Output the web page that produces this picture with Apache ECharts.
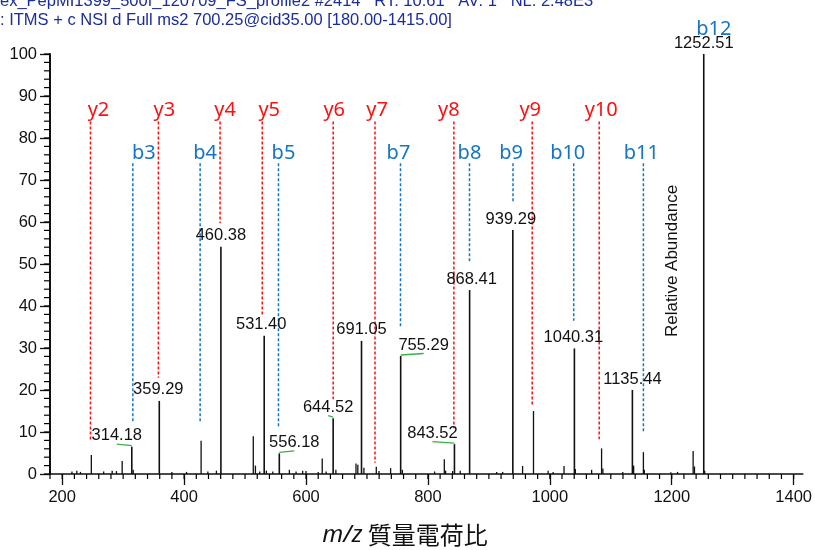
<!DOCTYPE html>
<html>
<head>
<meta charset="utf-8">
<script src="https://cdn.jsdelivr.net/npm/echarts@6/dist/echarts.min.js"></script>
<style>
  html, body { margin: 0; padding: 0; background: #fff; }
  #chart { width: 815px; height: 550px; }
</style>
</head>
<body>
<div id="chart"></div>
<script>
// labelled peaks (m/z, relative abundance)
const labelledMz = [314.18, 359.29, 460.38, 531.40, 556.18, 644.52, 691.05, 755.29, 843.52, 868.41, 939.29, 1040.31, 1135.44, 1252.51];
const labelledInt = [6.5, 17.4, 54.1, 32.9, 4.9, 13.3, 31.7, 28.1, 7.1, 43.8, 58.1, 29.9, 20.0, 100];
const labelShift = [-15, -1, 0, -3, 15, -5, 0, 23, -22, 2, -2, -1, 0, 0];

// unlabelled peaks
const otherMz = [216, 224, 230, 247.8, 268, 282, 289, 298.4, 316.5, 380, 404, 427.9, 439, 453, 513.5, 517, 524, 535, 545.5,
  572.7, 583.7, 594.5, 600, 620, 626.6, 633, 649, 682, 685, 695, 715.3, 719.7, 738.8, 758, 811, 826.9, 829, 840.5, 853,
  912.8, 922.6, 955.3, 973.2, 997.2, 1005.4, 1023.3, 1041.8, 1068.6, 1084.9, 1087, 1119.6, 1137.5, 1153.5, 1155,
  1198.5, 1209.5, 1235.1, 1237.3, 1254];
const otherInt = [0.6, 0.8, 0.5, 4.5, 0.6, 0.8, 0.7, 3.1, 1.0, 0.5, 0.5, 7.9, 0.6, 0.8, 9.0, 2.0, 0.6, 0.8, 0.6,
  1.0, 0.6, 0.8, 0.7, 0.5, 3.7, 0.6, 1.0, 2.5, 2.2, 1.5, 1.7, 0.7, 1.4, 1.0, 0.6, 3.5, 0.8, 0.7, 0.8,
  0.5, 0.5, 1.9, 15.0, 0.8, 0.5, 1.9, 1.2, 1.0, 6.1, 1.3, 0.5, 2.0, 5.2, 1.0,
  0.4, 0.5, 5.5, 1.8, 0.8];

// fragment ion annotations
const ionNames = ['y2', 'b3', 'y3', 'b4', 'y4', 'y5', 'b5', 'y6', 'y7', 'b7', 'y8', 'b8', 'b9', 'y9', 'b10', 'y10', 'b11', 'b12'];
const ionMz = [246.4, 315.9, 357.8, 426.3, 459.0, 528.2, 554.8, 644.6, 713.2, 755.0, 842.6, 868.2, 939.6, 971.1, 1039.2, 1081.0, 1153.5, 1252.5];
const ionLow = [8.1, 12.2, 22.9, 12.2, 59.7, 38.0, 10.9, 17.8, 2.7, 35.2, 10.9, 50.2, 64.8, 16.4, 36.5, 8.3, 9.7, null];
const ionLabelShift = [8, 11, 6, 5, 5, 7, 5, 1, 2, -2, -5, 0, -2, -2, -6, 2, -2, 10];
const yIonTop = 83.9;
const bIonTop = 74.0;

// axis ticks
const xMajorTicks = [200, 400, 600, 800, 1000, 1200, 1400];
const xMinorTicks = [];
for (let v = 180; v <= 1415; v += 20) xMinorTicks.push(v);
const yMinorTicks = [];
for (let v = 0; v <= 100; v += 2) yMinorTicks.push(v);

const chart = echarts.init(document.getElementById('chart'));

const labelFont = '16.5px "Liberation Sans", Arial, sans-serif';
const ionFont = '20px "Noto Sans", "Open Sans", sans-serif';

const option = {
    animation: false,
    grid: { left: 50, right: 9, top: 54, bottom: 76 },
    xAxis: {
        type: 'value', min: 180, max: 1415,
        position: 'bottom',
        axisLine: { show: true, lineStyle: { color: '#111', width: 1.5 } },
        axisTick: { show: true, customValues: xMajorTicks, length: 11, lineStyle: { color: '#111', width: 1.3 } },
        axisLabel: {
            customValues: xMajorTicks, margin: 15, fontSize: 16.5, color: '#111',
            fontFamily: '"Liberation Sans", Arial', formatter: (v) => String(v)
        },
        splitLine: { show: false }
    },
    yAxis: {
        type: 'value', min: 0, max: 100, interval: 10,
        position: 'left',
        axisLine: { show: true, lineStyle: { color: '#111', width: 2 } },
        axisTick: { show: true, length: 10, lineStyle: { color: '#111', width: 1.3 } },
        axisLabel: { margin: 13, fontSize: 16.5, color: '#111', fontFamily: '"Liberation Sans", Arial' },
        splitLine: { show: false }
    },
    graphic: [
        {
            type: 'text', x: 0, y: 1,
            style: {
                text: 'ex_PepMI1399_500f_120709_FS_profile2 #2414   RT: 10.61   AV: 1   NL: 2.48E3',
                font: '16.5px "Liberation Sans", Arial', fill: '#1b2c9c', verticalAlign: 'middle'
            }
        },
        {
            type: 'text', x: 0, y: 20,
            style: {
                text: ': ITMS + c NSI d Full ms2 700.25@cid35.00 [180.00-1415.00]',
                font: '16.5px "Liberation Sans", Arial', fill: '#1b2c9c', verticalAlign: 'middle'
            }
        },
        {
            type: 'text', x: 672, y: 261, rotation: Math.PI / 2,
            style: {
                text: 'Relative Abundance',
                font: '17px "Liberation Sans", Arial', fill: '#111', align: 'center', verticalAlign: 'middle'
            }
        },
        {
            type: 'text', x: 405, y: 535,
            style: {
                text: '{i|m/z} 質量電荷比',
                align: 'center', verticalAlign: 'middle',
                font: '24px "Noto Sans CJK JP"', fill: '#111',
                rich: {
                    i: { fontStyle: 'italic', fontSize: 24, fontFamily: '"Noto Sans"', fill: '#111' }
                }
            }
        }
    ],
    series: [
        {
            // minor ticks on both axes, placed through the axis scales in one item
            type: 'custom',
            clip: false, silent: true, z: 10,
            data: [[180, 0]],
            renderItem: (params, api) => {
                const children = [];
                xMinorTicks.forEach(v => {
                    const p = api.coord([v, 0]);
                    children.push({
                        type: 'line',
                        shape: { x1: p[0], y1: p[1], x2: p[0], y2: p[1] + 5 },
                        style: { stroke: '#000', lineWidth: 1.2 }
                    });
                });
                yMinorTicks.forEach(v => {
                    const p = api.coord([180, v]);
                    children.push({
                        type: 'line',
                        shape: { x1: p[0] - 6, y1: p[1], x2: p[0], y2: p[1] },
                        style: { stroke: '#000', lineWidth: 1.2 }
                    });
                });
                return { type: 'group', children: children };
            }
        },
        {
            // ion annotation dashed lines and labels
            type: 'custom',
            clip: false, silent: true, z: 1,
            data: ionMz.map((m, i) => [m, ionLow[i] === null ? 0 : ionLow[i]]),
            renderItem: (params, api) => {
                const i = params.dataIndex;
                const name = ionNames[i];
                const isY = name[0] === 'y';
                const color = isY ? '#ff1010' : '#1474c8';
                const m = api.value(0);
                const children = [];
                let topY;
                if (ionLow[i] === null) {
                    topY = api.coord([m, 100])[1] - 25;
                } else {
                    const top = api.coord([m, isY ? yIonTop : bIonTop]);
                    const low = api.coord([m, api.value(1)]);
                    children.push({
                        type: 'line',
                        shape: { x1: top[0], y1: top[1], x2: low[0], y2: low[1] },
                        style: { stroke: color, lineWidth: 1.5, lineDash: [3, 2] }
                    });
                    topY = top[1] - (isY ? 11 : 10);
                }
                const x = api.coord([m, 0])[0] + ionLabelShift[i];
                children.push({
                    type: 'text', x: x, y: topY,
                    style: { text: name, font: ionFont, fill: color, align: 'center', verticalAlign: 'middle' }
                });
                return { type: 'group', children: children };
            }
        },
        {
            // small peaks
            type: 'custom',
            clip: false, silent: true, z: 2,
            data: otherMz.map((m, i) => [m, otherInt[i]]),
            renderItem: (params, api) => {
                const p0 = api.coord([api.value(0), 0]);
                const p1 = api.coord([api.value(0), api.value(1)]);
                return {
                    type: 'line',
                    shape: { x1: p0[0], y1: p0[1], x2: p1[0], y2: p1[1] },
                    style: { stroke: '#111', lineWidth: 1.3 }
                };
            }
        },
        {
            // labelled peaks
            type: 'custom',
            clip: false, silent: true, z: 3,
            data: labelledMz.map((m, i) => [m, labelledInt[i]]),
            renderItem: (params, api) => {
                const i = params.dataIndex;
                const p0 = api.coord([api.value(0), 0]);
                const p1 = api.coord([api.value(0), api.value(1)]);
                const shift = labelShift[i];
                const children = [
                    {
                        type: 'line',
                        shape: { x1: p0[0], y1: p0[1], x2: p1[0], y2: p1[1] },
                        style: { stroke: '#111', lineWidth: 1.6 }
                    },
                    {
                        type: 'text', x: p1[0] + shift, y: p1[1] - 11,
                        style: { text: labelledMz[i].toFixed(2), font: labelFont, fill: '#111', align: 'center', verticalAlign: 'middle' }
                    }
                ];
                if (Math.abs(shift) >= 4) {
                    children.push({
                        type: 'line',
                        shape: { x1: p1[0], y1: p1[1] - 1, x2: p1[0] + shift, y2: p1[1] - 2.5 },
                        style: { stroke: '#3cb043', lineWidth: 1.3 }
                    });
                }
                return { type: 'group', children: children };
            }
        }
    ]
};

chart.setOption(option);
</script>
</body>
</html>
